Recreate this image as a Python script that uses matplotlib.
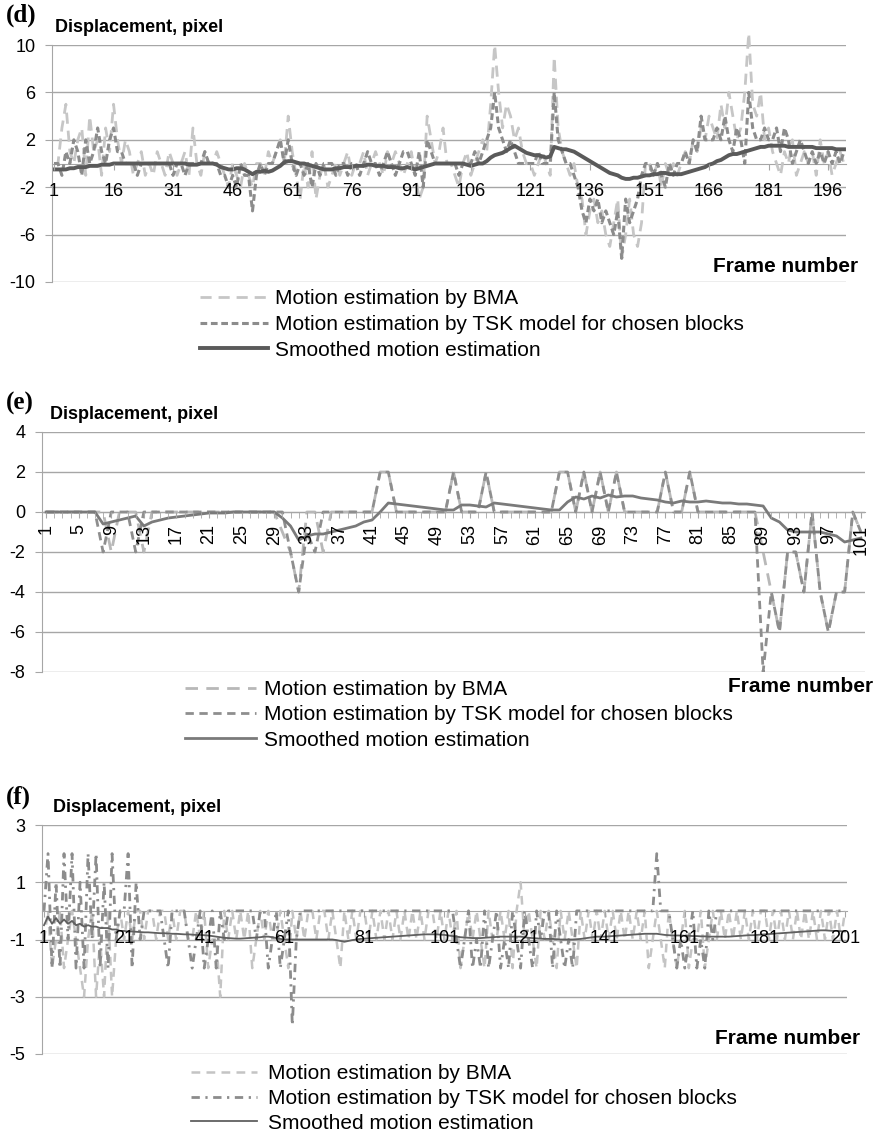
import matplotlib
matplotlib.use('Agg')
import matplotlib.pyplot as plt

plt.rcParams['font.family'] = ['Liberation Sans', 'DejaVu Sans']
plt.rcParams['axes.unicode_minus'] = False

# ---------------- panel (d) ----------------
frames_d = list(range(1, 201))
bma_d = [0, 0, 3, 5, 1, 0, 2, 3, -1, 4,
         1, 2, -1, 3, 1, 5, 2, 0, 2, 1,
         -1, 0, 1, -1, 0, -1, 1, 0, -1, 1,
         0, -1, 0, 1, -1, 3, 0, -1, 1, 0,
         0, 1, 0, -1, -2, 0, -1, -2, 0, -1,
         -2, 0, 0, -1, 1, 0, 1, 2, 0, 4,
         1, -1, -3, 0, -2, 1, -3, -1, 0, -2,
         -1, 0, -1, 0, 1, -1, 0, 0, 1, -1,
         0, 1, 0, -1, 1, 0, 1, 0, -1, 0,
         1, -1, -3, -2, 4, 2, 0, 1, 3, 0,
         0, -1, -2, 0, 1, -1, 0, 1, 2, 1,
         5, 10, 6, 3, 5, 4, 2, 3, 1, 0,
         0, -1, 0, 1, 0, -1, 9, 3, 1, 0,
         -1, 0, -2, -3, -6, -4, -3, -5, -4, -6,
         -7, -5, -3, -8, -6, -3, -6, -7, -5, 0,
         0, -1, 0, -2, 0, -1, 0, -1, 0, 1,
         0, 2, 1, 3, 2, 4, 3, 2, 5, 3,
         6, 4, 2, 3, 6, 11, 5, 4, 6, 2,
         3, 1, 0, -1, 1, 0, 2, -1, 0, 1,
         0, 1, -1, 2, 0, 1, -1, 0, 1, 0]
tsk_d = [0, 0, -1, 1, 0, 2, 1, -1, 2, 0,
         1, 3, 1, 0, 2, 3, 1, 1, 0, 0,
         0, -1, 0, 0, 0, 0, 0, 0, 0, 0,
         -1, 0, 0, -1, 0, 0, 0, 0, 1, 0,
         0, 0, -1, -1, -2, -1, -2, 0, -1, -1,
         -4, -1, 0, -1, 0, 0, 1, 2, 0, 2,
         0, -1, 0, -1, 0, -2, 0, -1, 0, 0,
         0, -1, 0, 0, -1, 0, 0, -1, 0, 1,
         0, 0, -1, 0, 1, 0, -1, 0, 1, 1,
         0, -1, 1, -2, 2, 1, 0, 0, 0, 0,
         0, 0, -1, 0, 0, 0, 1, 0, 1, 2,
         3, 6, 3, 2, 1, 2, 1, 0, 0, 0,
         0, 0, 1, 0, 0, 0, 6, 2, 1, 0,
         0, -1, -2, -4, -5, -3, -4, -3, -5, -4,
         -5, -6, -4, -8, -3, -5, -4, -3, -1, 0,
         0, -1, 0, -1, -2, 0, -1, 0, 0, 1,
         0, 2, 1, 4, 2, 2, 2, 3, 2, 4,
         2, 1, 3, 2, 0, 6, 3, 2, 2, 3,
         2, 2, 3, 1, 3, 2, 0, 1, 2, 1,
         0, 1, 0, 1, 0, 1, 0, 1, 0, 1]
smooth_d = [-0.5, -0.5, -0.5, -0.5, -0.4, -0.4, -0.3, -0.3, -0.3, -0.2,
            -0.2, -0.2, -0.1, -0.1, -0.1, 0.0, 0.0, 0.0, 0.0, 0.0,
            0, 0, 0, 0, 0, 0, 0, 0, 0, 0,
            0, 0, 0, 0, -0.1, -0.1, -0.1, 0, 0, 0,
            0, -0.1, -0.3, -0.4, -0.5, -0.5, -0.4, -0.4, -0.5, -0.7,
            -0.9, -0.7, -0.7, -0.6, -0.7, -0.6, -0.4, -0.2, 0.1, 0.2,
            0.2, 0.1, 0.0, 0.0, -0.1, -0.2, -0.3, -0.4, -0.5, -0.5,
            -0.5, -0.4, -0.4, -0.3, -0.3, -0.3, -0.2, -0.2, -0.2, -0.1,
            -0.1, -0.2, -0.2, -0.2, -0.3, -0.3, -0.3, -0.4, -0.4, -0.3,
            -0.4, -0.5, -0.4, -0.3, -0.2, -0.1, 0.0, 0.0, 0.0, 0.0,
            0, 0, 0, 0, -0.1, -0.2, -0.1, 0.0, 0.0, 0.2,
            0.5, 0.7, 0.8, 0.9, 1.1, 1.3, 1.5, 1.3, 1.1, 0.9,
            0.8, 0.7, 0.7, 0.6, 0.5, 0.6, 1.4, 1.3, 1.2, 1.2,
            1.1, 1.0, 0.8, 0.6, 0.4, 0.2, 0.0, -0.2, -0.4, -0.6,
            -0.8, -0.9, -1.0, -1.2, -1.3, -1.3, -1.2, -1.2, -1.1, -1.0,
            -1.0, -0.9, -0.9, -0.8, -0.8, -0.9, -0.9, -0.9, -0.9, -0.8,
            -0.7, -0.6, -0.5, -0.4, -0.3, -0.1, 0.0, 0.2, 0.3, 0.5,
            0.7, 0.8, 0.8, 0.9, 1.0, 1.1, 1.2, 1.3, 1.4, 1.4,
            1.5, 1.5, 1.5, 1.5, 1.5, 1.4, 1.4, 1.4, 1.4, 1.4,
            1.4, 1.4, 1.3, 1.3, 1.3, 1.3, 1.3, 1.2, 1.2, 1.2]
yticks_d = [-10, -6, -2, 2, 6, 10]
xticks_d = list(range(1, 201, 15))

# ---------------- panel (e) ----------------
frames_e = list(range(1, 102))
bma_e = [0, 0, 0, 0, 0, 0, 0, 0, -2, 0,
         0, 0, -2, 0, 0, 0, 0, 0, 0, 0,
         0, 0, 0, 0, 0, 0, 0, 0, 0, -1,
         -2, -4, 0, 0, -2, 0, 0, 0, 0, 0,
         0, 2, 2, 0, 0, 0, 0, 0, 0, 0,
         2, 0, 0, 0, 2, 0, 0, 0, 0, 0,
         0, 0, 0, 2, 2, 0, 2, 0, 2, 0,
         2, 0, 0, 0, 0, 0, 2, 0, 0, 2,
         0, 0, 0, 0, 0, 0, 0, 0, -2, -4,
         -6, -2, -2, -4, 0, -4, -6, -4, -4, 0,
         -1]
tsk_e = [0, 0, 0, 0, 0, 0, 0, -2, 0, 0,
         0, -2, 0, 0, 0, 0, 0, 0, 0, 0,
         0, 0, 0, 0, 0, 0, 0, 0, 0, 0,
         -2, -4, -1, -2, 0, 0, 0, 0, 0, 0,
         0, 2, 2, 0, 0, 0, 0, 0, 0, 0,
         2, 0, 0, 0, 2, 0, 0, 0, 0, 0,
         0, 0, 0, 2, 2, 0, 2, 0, 2, 0,
         2, 0, 0, 0, 0, 0, 2, 0, 0, 2,
         0, 0, 0, 0, 0, 0, 0, 0, -8, -4,
         -6, -2, -2, -4, 0, -4, -6, -4, -4, 0,
         -1]
smooth_e = [0, 0, 0, 0, 0, 0, 0, -0.6, -0.5, -0.4,
            -0.3, -0.2, -0.7, -0.5, -0.4, -0.3, -0.25, -0.2, -0.15, -0.1,
            -0.05, -0.05, -0.05, 0, 0, 0, 0, 0, 0, -0.3,
            -0.7, -1.4, -1.2, -1.1, -1.1, -1.0, -0.9, -0.8, -0.7, -0.5,
            -0.4, 0.0, 0.45, 0.4, 0.35, 0.3, 0.25, 0.2, 0.15, 0.1,
            0.1, 0.35, 0.35, 0.3, 0.25, 0.45, 0.4, 0.35, 0.3, 0.25,
            0.2, 0.15, 0.1, 0.1, 0.5, 0.75, 0.65, 0.8, 0.7, 0.85,
            0.75, 0.8, 0.8, 0.7, 0.65, 0.6, 0.5, 0.45, 0.55, 0.5,
            0.5, 0.55, 0.5, 0.45, 0.45, 0.4, 0.4, 0.35, 0.3, -0.3,
            -0.5, -0.9, -1.0, -1.0, -1.0, -1.0, -1.1, -1.2, -1.5, -1.4,
            -1.3]
yticks_e = [-8, -6, -4, -2, 0, 2, 4]
xticks_e = list(range(1, 102, 4))

# ---------------- panel (f) ----------------
frames_f = list(range(1, 202))
bma_f = [-1, 0, -2, -1, 0, -2, -1, 0, -1, -2,
         -3, -1, 0, -3, -1, -3, 0, -3, -1, 0,
         -1, 0, -1, 0, 0, -1, 0, 0, -1, 0,
         0, -1, 0, -1, 0, 0, -1, -1, 0, -1,
         0, -2, -1, -1, -3, 0, -1, 0, -1, 0,
         -1, 0, -2, -1, 0, -1, 0, -1, -1, 0,
         -1, -2, 0, -1, 0, -1, 0, 0, -1, 0,
         0, -1, 0, -1, -2, 0, -1, 0, -1, 0,
         0, -1, 0, -1, 0, -1, 0, -1, 0, -1,
         0, -1, 0, -1, 0, -1, 0, 0, -1, 0,
         -1, 0, -1, 0, -2, -1, 0, -1, 0, -1,
         -2, 0, -1, -1, 0, -1, 0, -2, 0, 1,
         -1, 0, -1, -2, 0, -1, 0, -1, -2, 0,
         -1, 0, -1, -2, 0, -1, 0, -1, 0, -1,
         0, -1, 0, -1, 0, -1, 0, -1, 0, -1,
         0, -2, -1, 0, -1, -2, 0, -1, -2, -1,
         0, -2, -1, -1, 0, -2, -1, 0, -1, 0,
         -1, 0, -1, 0, -1, 0, -1, 0, -1, 0,
         0, -1, 0, -1, 0, -1, 0, -1, 0, -1,
         0, -1, 0, -1, 0, -1, 0, -1, 0, -1,
         0]
tsk_f = [0, 2, -2, 1, -2, 2, -1, 2, -2, 1,
         -2, 2, -1, 2, -2, 1, -2, 2, -1, 0,
         0, 2, -2, 1, -1, 0, 0, 0, 0, 0,
         -1, -2, 0, 0, 0, 0, -1, -2, -1, 0,
         -2, -1, 0, -2, 0, -1, 0, 0, 0, 0,
         0, 0, 0, -1, 0, 0, -2, -1, 0, -2,
         -1, 0, -4, -1, 0, 0, 0, 0, 0, 0,
         0, 0, 0, 0, 0, 0, 0, 0, 0, 0,
         0, 0, 0, 0, 0, 0, 0, 0, 0, 0,
         0, 0, 0, 0, 0, 0, 0, 0, 0, 0,
         0, 0, 0, -1, -2, -1, 0, -2, -1, -2,
         0, -2, -1, 0, -2, -1, -2, 0, -1, -2,
         0, -1, -2, 0, -1, 0, 0, -2, 0, -1,
         -2, -1, -2, 0, 0, 0, 0, 0, 0, 0,
         0, 0, 0, 0, 0, 0, 0, 0, 0, 0,
         0, 0, 0, 2, 0, 0, 0, -1, -2, -1,
         -2, -1, 0, -2, -1, -2, 0, -1, 0, 0,
         0, 0, 0, 0, 0, 0, 0, 0, 0, 0,
         0, 0, 0, 0, 0, 0, 0, 0, 0, 0,
         0, 0, 0, 0, 0, 0, 0, 0, 0, 0,
         0]
smooth_f = [-0.5, -0.2, -0.45, -0.25, -0.45, -0.3, -0.45, -0.35, -0.5, -0.45,
            -0.55, -0.5, -0.55, -0.55, -0.6, -0.6, -0.6, -0.65, -0.65, -0.7,
            -0.7, -0.72, -0.72, -0.73, -0.74, -0.75, -0.75, -0.76, -0.77, -0.78,
            -0.78, -0.79, -0.8, -0.8, -0.81, -0.82, -0.82, -0.83, -0.84, -0.84,
            -0.85, -0.86, -0.88, -0.9, -0.92, -0.94, -0.95, -0.96, -0.97, -0.97,
            -0.96, -0.95, -0.94, -0.93, -0.92, -0.9, -0.9, -0.92, -0.95, -0.98,
            -1.0, -1.0, -1.0, -1.0, -1.0, -1.0, -1.0, -1.0, -1.0, -1.0,
            -1.0, -1.0, -1.0, -1.02, -1.05, -1.08, -1.05, -1.02, -1.0, -0.98,
            -0.97, -0.96, -0.95, -0.94, -0.93, -0.92, -0.91, -0.9, -0.89, -0.88,
            -0.87, -0.86, -0.85, -0.84, -0.83, -0.82, -0.82, -0.82, -0.82, -0.83,
            -0.84, -0.86, -0.88, -0.9, -0.92, -0.93, -0.94, -0.95, -0.95, -0.95,
            -0.94, -0.93, -0.92, -0.91, -0.9, -0.9, -0.9, -0.9, -0.9, -0.9,
            -0.92, -0.94, -0.95, -0.96, -0.97, -0.98, -0.98, -0.98, -0.99, -1.0,
            -1.0, -1.0, -1.0, -0.99, -0.98, -0.96, -0.94, -0.92, -0.9, -0.9,
            -0.9, -0.89, -0.88, -0.87, -0.86, -0.85, -0.84, -0.83, -0.82, -0.81,
            -0.8, -0.8, -0.8, -0.8, -0.82, -0.84, -0.85, -0.86, -0.86, -0.86,
            -0.87, -0.87, -0.88, -0.88, -0.89, -0.89, -0.9, -0.9, -0.9, -0.9,
            -0.9, -0.9, -0.89, -0.88, -0.87, -0.86, -0.85, -0.85, -0.84, -0.83,
            -0.82, -0.81, -0.8, -0.79, -0.78, -0.77, -0.76, -0.75, -0.74, -0.73,
            -0.72, -0.71, -0.7, -0.69, -0.68, -0.68, -0.69, -0.7, -0.7, -0.71,
            -0.72]
yticks_f = [-5, -3, -1, 1, 3]
xticks_f = list(range(1, 202, 20))

labels = ['Motion estimation by BMA',
          'Motion estimation by TSK model for chosen blocks',
          'Smoothed motion estimation']

W, H = 882, 1137
GRID = '#a6a6a6'


def box(l, t, r, b):
    return [l / W, 1 - b / H, (r - l) / W, (b - t) / H]


def setup(ax, n, ylim, yticks, xticks, rot=0, xpad=10):
    ax.set_xlim(0.5, n + 0.5)
    ax.set_ylim(ylim)
    ax.set_yticks(yticks)
    ax.set_xticks(xticks)
    ax.set_yticklabels([str(v) for v in yticks])
    ax.grid(axis='y', color=GRID, lw=1)
    ax.spines['top'].set_visible(False)
    ax.spines['right'].set_visible(False)
    ax.spines['left'].set_color(GRID)
    ax.spines['bottom'].set_position(('data', 0))
    ax.spines['bottom'].set_color(GRID)
    ax.spines['bottom'].set_zorder(1.6)
    ax.tick_params(axis='y', length=5, color=GRID, labelsize=13, pad=7)
    ax.tick_params(axis='x', length=4, color=GRID, labelsize=13, pad=xpad,
                   labelrotation=rot)
    # category labels sit on top of the series, as in the spreadsheet
    ax.xaxis.set_zorder(3)


def legend(handles, x, y, hl, pad, sp):
    fig.legend(handles, labels, loc='upper left', bbox_to_anchor=(x / W, 1 - y / H),
               frameon=False, fontsize=15, handlelength=hl, handletextpad=pad,
               labelspacing=sp, borderaxespad=0, borderpad=0)


def titles(tag, ty, dx, dy, fx, fy):
    fig.text(6 / W, 1 - ty / H, tag, family='Liberation Serif', weight='bold',
             fontsize=18, va='center')
    fig.text(dx / W, 1 - dy / H, 'Displacement, pixel', weight='bold',
             fontsize=13, va='center')
    fig.text(fx / W, 1 - fy / H, 'Frame number', weight='bold', fontsize=15,
             ha='right', va='center')


fig = plt.figure(figsize=(W / 100, H / 100), dpi=100)

# (d)
axd = fig.add_axes(box(52, 45, 846, 282))
setup(axd, 200, (-10, 10), yticks_d, xticks_d)
h1, = axd.plot(frames_d, bma_d, color='#c6c6c6', lw=2, dashes=(4, 2.5), clip_on=False)
h2, = axd.plot(frames_d, tsk_d, color='#8c8c8c', lw=2.2, dashes=(2.2, 1.2))
h3, = axd.plot(frames_d, smooth_d, color='#5a5a5a', lw=2.8)
legend([h1, h2, h3], 200, 289, 3.25, 0.34, 0.33)
titles('(d)', 15, 55, 27, 858, 267)

# (e)
axe = fig.add_axes(box(42, 432, 865, 672))
setup(axe, 101, (-8, 4), yticks_e, xticks_e, rot=90, xpad=5)
axe.set_xticks(frames_e, minor=True)
axe.tick_params(axis='x', which='minor', length=4, color=GRID)
g1, = axe.plot(frames_e, bma_e, color='#b8b8b8', lw=2, dashes=(4.5, 3))
g2, = axe.plot(frames_e, tsk_e, color='#8e8e8e', lw=2, dashes=(3, 2))
g3, = axe.plot(frames_e, smooth_e, color='#7a7a7a', lw=2)
legend([g1, g2, g3], 185, 680, 3.4, 0.4, 0.3)
titles('(e)', 403, 50, 415, 873, 687)

# (f)
axf = fig.add_axes(box(42, 825, 847, 1054))
setup(axf, 201, (-5, 3), yticks_f, xticks_f)
k1, = axf.plot(frames_f, bma_f, color='#c4c4c4', lw=1.8, dashes=(3.5, 2.5))
k2, = axf.plot(frames_f, tsk_f, color='#8c8c8c', lw=2, dashes=(3, 2, 0.8, 2))
k3, = axf.plot(frames_f, smooth_f, color='#606060', lw=1.3)
legend([k1, k2, k3], 191, 1064, 3.17, 0.53, 0.28)
titles('(f)', 797, 53, 807, 860, 1038)

fig.savefig('out.png', dpi=100)
